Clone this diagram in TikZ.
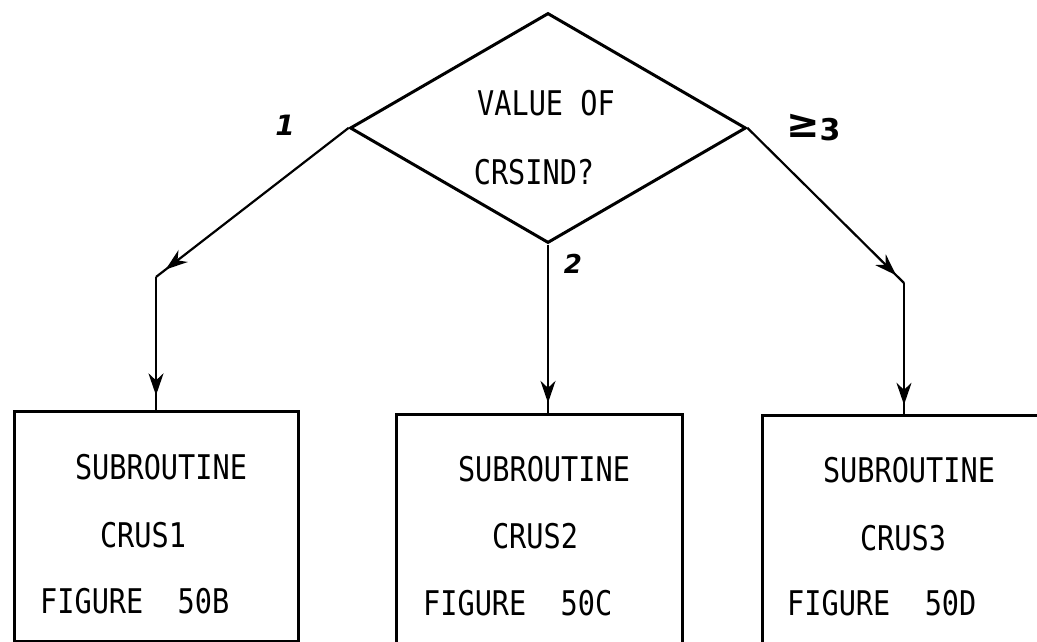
\documentclass[tikz,border=0pt]{standalone}
\usepackage{fontspec}
\newfontfamily\prfont[FakeStretch=0.84]{DejaVu Sans Mono}
\newfontfamily\handfont{DejaVu Sans}[BoldFont={DejaVu Sans Bold},BoldItalicFont={DejaVu Sans Bold Oblique}]
\usetikzlibrary{shapes.geometric,arrows.meta,decorations.markings}
\tikzset{
  prtext/.style={inner sep=0pt, font=\prfont\fontsize{34}{36}\selectfont},
  handlbl/.style={inner sep=0pt},
  boxnode/.style={draw, line width=2.6pt, minimum width=284pt, minimum height=230pt, anchor=north west, inner sep=0pt},
  conn/.style={line width=2.2pt},
  arrowat/.style={postaction={decorate}, decoration={markings, mark=at position #1 with {\arrow{Stealth[length=22pt,width=15pt,inset=7pt]}}}}
}
\begin{document}
\begin{tikzpicture}[x=1pt,y=-1pt]
\useasboundingbox (0,0) rectangle (1037,642);
\fill[white] (0,0) rectangle (1037,642);
\clip (0,0) rectangle (1037,642);
% decision
\node[diamond, draw, line width=3pt, minimum width=396pt, minimum height=230pt, inner sep=0pt] (dia) at (548,128) {};
\node[prtext] (t1) at (546,103) {VALUE OF};
\node[prtext] (t2) at (534,172) {CRSIND?};
% boxes
\node[boxnode] (b1) at (13,410) {};
\node[boxnode, minimum width=286pt, minimum height=240pt] (b2) at (395,413) {};
\node[boxnode, minimum height=240pt] (b3) at (761,414) {};
% box texts
\node[prtext] (s1) at (161,467) {SUBROUTINE};
\node[prtext] (c1t) at (143,535) {CRUS1};
\node[prtext, anchor=west] (f1) at (40,601) {FIGURE\ \ 50B};
\node[prtext] (s2) at (544,469) {SUBROUTINE};
\node[prtext] (c2t) at (535,536) {CRUS2};
\node[prtext, anchor=west] (f2) at (423,603) {FIGURE\ \ 50C};
\node[prtext] (s3) at (909,470) {SUBROUTINE};
\node[prtext] (c3t) at (903,538) {CRUS3};
\node[prtext, anchor=west] (f3) at (787,603) {FIGURE\ \ 50D};
% corners
\coordinate (k1) at (156,277);
\coordinate (k3) at (904,283);
% connectors
\draw[conn, arrowat=0.95] (dia.west) -- (k1);
\draw[conn, arrowat=0.89] (k1) -- (k1 |- b1.north);
\draw[conn, arrowat=0.95] (dia.east) -- (k3);
\draw[conn, arrowat=0.94] (dia.south) -- (dia.south |- b2.north);
\draw[conn, arrowat=0.93] (k3) -- (k3 |- b3.north);
% labels
\node[handlbl, font=\handfont\bfseries\itshape\fontsize{28}{30}\selectfont] (l1) at (285,125) {1};
\node[handlbl, font=\handfont\bfseries\itshape\fontsize{26}{28}\selectfont] (l2) at (573,264) {2};
\node[handlbl, font=\handfont\bfseries\fontsize{30}{32}\selectfont, anchor=west] (l3) at (786,128) {\raisebox{3pt}{\fontsize{40}{42}\selectfont ≥}3};
\end{tikzpicture}
\end{document}
